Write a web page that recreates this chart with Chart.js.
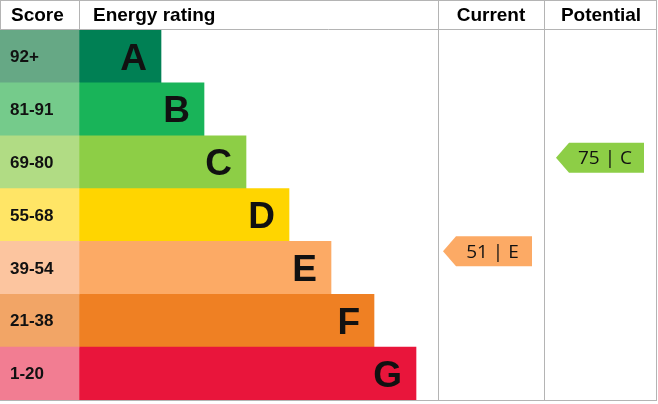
<!DOCTYPE html>
<html>
<head>
<meta charset="utf-8">
<script src="https://cdn.jsdelivr.net/npm/chart.js@4"></script>
<style>
  html, body { margin: 0; padding: 0; background: #fff; }
  canvas { display: block; }
</style>
</head>
<body>
<canvas id="epc" width="658" height="404"></canvas>
<script>
// bands, top to bottom
const bands = ['A', 'B', 'C', 'D', 'E', 'F', 'G'];
const scoreRanges = ['92+', '81-91', '69-80', '55-68', '39-54', '21-38', '1-20'];
const bandMin = [92, 81, 69, 55, 39, 21, 1];
const bandMax = [100, 91, 80, 68, 54, 38, 20];
const barEnds = [161, 204, 246, 289, 331, 374, 416];
const bandColors = ['#008054', '#19b459', '#8dce46', '#ffd500', '#fcaa65', '#ef8023', '#e9153b'];
const scoreColors = ['#66a885', '#75cb8b', '#b1dc84', '#ffe566', '#fcc59f', '#f2a566', '#f27d92'];
const currentScore = 51, currentBand = 'E';
const potentialScore = 75, potentialBand = 'C';

const scoreEdge = 79;
const lineColor = '#b4b4b4';

const epcPlugin = {
    id: 'epc',
    beforeDatasetsDraw(chart) {
        const { ctx } = chart;
        const x = chart.scales.x;
        ctx.save();
        ctx.strokeStyle = lineColor;
        ctx.lineWidth = 1;
        ctx.strokeRect(0.5, 0.5, 656, 400);
        ctx.beginPath();
        ctx.moveTo(0, 29.5); ctx.lineTo(657, 29.5);
        ctx.moveTo(x.getPixelForValue(scoreEdge) + 0.5, 0); ctx.lineTo(x.getPixelForValue(scoreEdge) + 0.5, 29);
        ctx.moveTo(x.getPixelForValue(438) + 0.5, 0); ctx.lineTo(x.getPixelForValue(438) + 0.5, 401);
        ctx.moveTo(x.getPixelForValue(544) + 0.5, 0); ctx.lineTo(x.getPixelForValue(544) + 0.5, 401);
        ctx.stroke();

        ctx.fillStyle = '#000';
        ctx.font = 'bold 19px "Liberation Sans", Arial, sans-serif';
        ctx.textBaseline = 'middle';
        ctx.textAlign = 'left';
        ctx.fillText('Score', 11, 16);
        ctx.fillText('Energy rating', 93, 16);
        ctx.textAlign = 'center';
        ctx.fillText('Current', 491, 16);
        ctx.fillText('Potential', 601, 16);
        ctx.restore();
    },
    afterDatasetsDraw(chart) {
        const { ctx } = chart;
        const x = chart.scales.x, y = chart.scales.y;
        ctx.save();
        ctx.textBaseline = 'middle';
        bands.forEach((b, i) => {
            const cy = y.getPixelForValue(i);
            ctx.fillStyle = '#111';
            ctx.textAlign = 'left';
            ctx.font = 'bold 17px "Liberation Sans", Arial, sans-serif';
            ctx.fillText(scoreRanges[i], 10, cy + 1);
            ctx.textAlign = 'right';
            ctx.font = 'bold 37px "Liberation Sans", Arial, sans-serif';
            ctx.fillText(b, x.getPixelForValue(barEnds[i]) - 14, cy + 3);
        });

        const arrow = (score, band, left, right) => {
            const i = bands.indexOf(band);
            const top = (y.getPixelForValue(i - 1) + y.getPixelForValue(i)) / 2;
            const bottom = (y.getPixelForValue(i) + y.getPixelForValue(i + 1)) / 2;
            const frac = (bandMax[i] - score) / (bandMax[i] - bandMin[i] + 1);
            const cy = top + frac * (bottom - top);
            const l = x.getPixelForValue(left), r = x.getPixelForValue(right);
            const h = 15;
            ctx.fillStyle = bandColors[i];
            ctx.beginPath();
            ctx.moveTo(l, cy);
            ctx.lineTo(l + 13, cy - h);
            ctx.lineTo(r, cy - h);
            ctx.lineTo(r, cy + h);
            ctx.lineTo(l + 13, cy + h);
            ctx.closePath();
            ctx.fill();
            ctx.fillStyle = '#111';
            ctx.textAlign = 'center';
            ctx.font = '19px "Open Sans", "DejaVu Sans", sans-serif';
            ctx.fillText(score + ' | ' + band, (l + r) / 2 + 5, cy + 1);
        };
        arrow(currentScore, currentBand, 443, 532);
        arrow(potentialScore, potentialBand, 556, 644);
        ctx.restore();
    }
};

new Chart(document.getElementById('epc'), {
    type: 'bar',
    data: {
        labels: bands,
        datasets: [
            {
                data: bands.map(() => [0, scoreEdge]),
                backgroundColor: scoreColors,
                grouped: false,
            },
            {
                data: barEnds.map(e => [scoreEdge, e]),
                backgroundColor: bandColors,
                grouped: false,
            },
        ],
    },
    options: {
        indexAxis: 'y',
        responsive: false,
        devicePixelRatio: 1,
        animation: false,
        categoryPercentage: 1,
        barPercentage: 1,
        layout: { padding: { top: 30, bottom: 4, left: 0, right: 2 } },
        plugins: { legend: { display: false }, tooltip: { enabled: false } },
        scales: {
            x: { display: false, min: 0, max: 656 },
            y: { display: false },
        },
    },
    plugins: [epcPlugin],
});
</script>
</body>
</html>
